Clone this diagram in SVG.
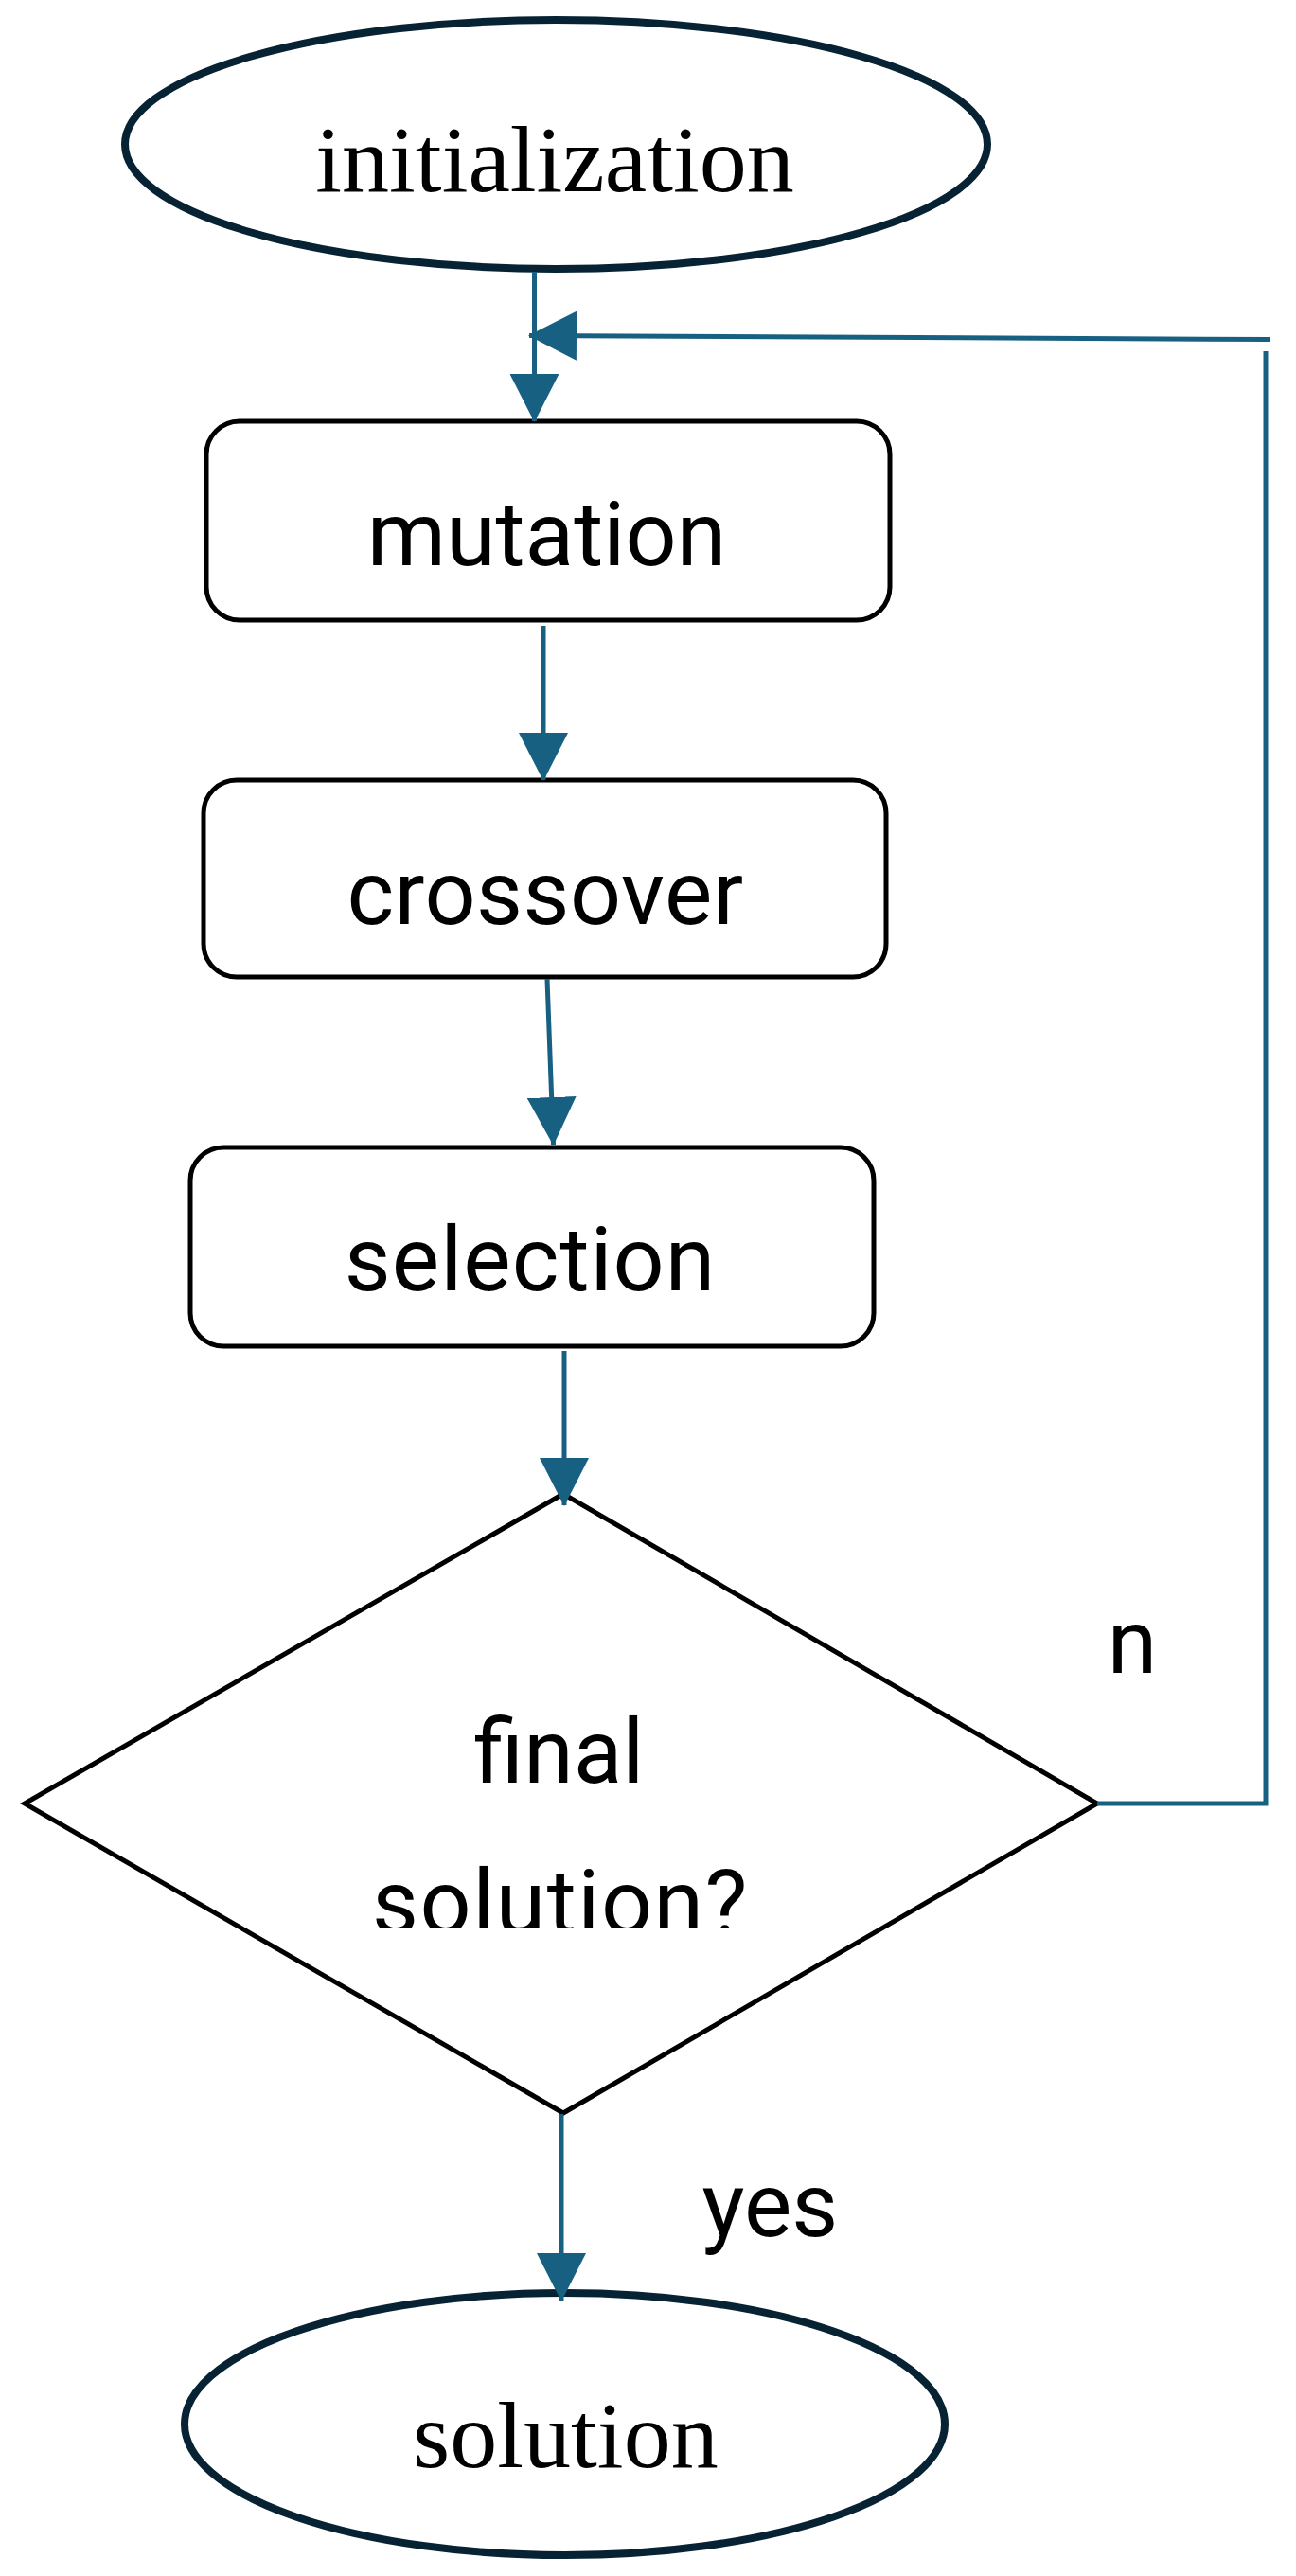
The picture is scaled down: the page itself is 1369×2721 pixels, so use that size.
<svg xmlns="http://www.w3.org/2000/svg" width="1369" height="2721" viewBox="0 0 1369 2721">
  <style>
    .term { fill: #ffffff; stroke: #062233; stroke-width: 8; }
    .box { fill: #ffffff; stroke: #000000; stroke-width: 5; }
    .serif { font-family: "Liberation Serif", "Times New Roman", serif; font-size: 100px; fill: #000000; }
    .sans { font-family: Roboto, "Liberation Sans", Arial, sans-serif; font-size: 95px; fill: #000000; }
    .conn { fill: none; stroke: #186082; stroke-width: 5; }
  </style>
  <defs>
    <marker id="arrow" markerUnits="userSpaceOnUse" viewBox="0 0 51 52" markerWidth="51" markerHeight="52" refX="50" refY="26" orient="auto">
      <path d="M0,0 L51,26 L0,52 Z" fill="#186082"/>
    </marker>
    <clipPath id="clipDiamondText">
      <rect x="0" y="1700" width="1369" height="337"/>
    </clipPath>
  </defs>
  <rect x="0" y="0" width="1369" height="2721" fill="#ffffff"/>

  <g id="initialization">
    <ellipse class="term" cx="587.5" cy="152.5" rx="455.5" ry="131.5"/>
    <text class="serif" x="586" y="202" text-anchor="middle">initialization</text>
  </g>

  <g id="mutation">
    <rect class="box" x="218" y="445" width="722" height="210" rx="35" ry="35"/>
    <text class="sans" x="577.5" y="597" text-anchor="middle">mutation</text>
  </g>

  <g id="crossover">
    <rect class="box" x="215" y="824" width="721" height="208" rx="35" ry="35"/>
    <text class="sans" x="576" y="976" text-anchor="middle" letter-spacing="0.5">crossover</text>
  </g>

  <g id="selection">
    <rect class="box" x="201" y="1212" width="722" height="210" rx="35" ry="35"/>
    <text class="sans" x="560" y="1363" text-anchor="middle" letter-spacing="1">selection</text>
  </g>

  <g id="final-solution">
    <polygon class="box" points="595,1578 1159,1905 595,2232 26,1905"/>
    <g clip-path="url(#clipDiamondText)">
      <text class="sans" x="590.5" y="1883" text-anchor="middle">final</text>
      <text class="sans" x="592" y="2042" text-anchor="middle" letter-spacing="1.5">solution?</text>
    </g>
  </g>

  <g id="solution">
    <ellipse class="term" cx="596.5" cy="2560.5" rx="401.5" ry="138.5"/>
    <text class="serif" x="597.5" y="2606" text-anchor="middle">solution</text>
  </g>

  <g id="connectors">
    <line class="conn" x1="564.5" y1="287" x2="564.5" y2="445" marker-end="url(#arrow)"/>
    <path class="conn" d="M1159,1905 H1337 V371"/>
    <line class="conn" x1="1342" y1="358.5" x2="559" y2="354.5" marker-end="url(#arrow)"/>
    <line class="conn" x1="574" y1="661" x2="574" y2="824" marker-end="url(#arrow)"/>
    <line class="conn" x1="578" y1="1034" x2="584.5" y2="1209" marker-end="url(#arrow)"/>
    <line class="conn" x1="596" y1="1427" x2="596" y2="1590" marker-end="url(#arrow)"/>
    <line class="conn" x1="593" y1="2233" x2="593" y2="2430" marker-end="url(#arrow)"/>
    <text class="sans" x="1196" y="1767" text-anchor="middle">n</text>
    <text class="sans" x="813.5" y="2362" text-anchor="middle">yes</text>
  </g>
</svg>
